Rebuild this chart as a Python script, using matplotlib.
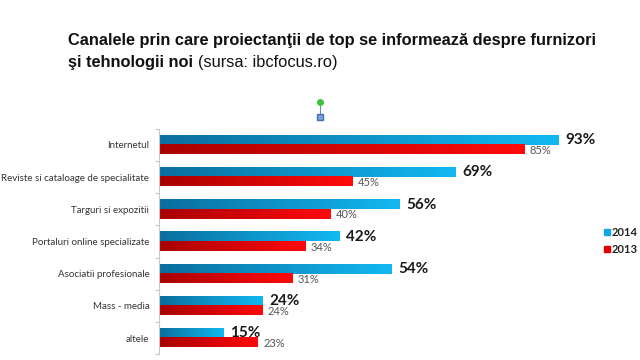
import numpy as np
import matplotlib
matplotlib.use("Agg")
import matplotlib.pyplot as plt
import matplotlib.colors as mcolors

# ---------------------------------------------------------------
# Data
# ---------------------------------------------------------------
categories = [
    "Internetul",
    "Reviste si cataloage de specialitate",
    "Targuri si expozitii",
    "Portaluri online specializate",
    "Asociatii profesionale",
    "Mass - media",
    "altele",
]
values_2014 = [93, 69, 56, 42, 54, 24, 15]
values_2013 = [85, 45, 40, 34, 31, 24, 23]
series_labels = ["2014", "2013"]

BLUE_CMAP = mcolors.LinearSegmentedColormap.from_list("b", ["#0b6e9e", "#12b8f2"])
RED_CMAP = mcolors.LinearSegmentedColormap.from_list("r", ["#a80000", "#ff0a0a"])
FONT = "Lato"

W, H = 640, 360
fig = plt.figure(figsize=(6.4, 3.6), dpi=100)

# axes placed in pixel terms: x 0..100 -> 159..589 px, rows 128.8..354.2 px
ax = fig.add_axes([159 / W, 1 - 354.2 / H, 430 / W, (354.2 - 128.8) / H])

bh = 0.29
grad = np.linspace(0, 1, 256).reshape(1, -1)


def gradient_bar(y0, width, cmap):
    ax.imshow(grad, cmap=cmap, aspect="auto", extent=(0, width, y0 + bh, y0),
              interpolation="bilinear", zorder=2)


for i, (v14, v13) in enumerate(zip(values_2014, values_2013)):
    gradient_bar(i - bh, v14, BLUE_CMAP)
    gradient_bar(i, v13, RED_CMAP)
    ax.text(v14 + 1.6, i - bh / 2, f"{v14}%", va="center", ha="left",
            fontsize=11, fontweight="bold", color="#1a1a1a", family=FONT)
    ax.text(v13 + 1.2, i + bh / 2 + 0.03, f"{v13}%", va="center", ha="left",
            fontsize=8, color="#555555", family=FONT)

ax.set_xlim(0, 100)
ax.set_ylim(len(categories) - 0.5, -0.5)

ax.set_yticks(range(len(categories)))
ax.set_yticklabels(categories, fontsize=7.0, color="#333333", family=FONT)
ax.set_yticks(np.arange(-0.5, len(categories)), minor=True)
ax.tick_params(axis="y", which="major", length=0, pad=7)
ax.tick_params(axis="y", which="minor", length=3, color="#c8c8c8", width=0.8)
ax.set_xticks([])
for side in ("top", "right", "bottom"):
    ax.spines[side].set_visible(False)
ax.spines["left"].set_color("#c8c8c8")
ax.spines["left"].set_linewidth(0.8)

# legend
leg_colors = ["#12a6e0", "#e00000"]
for k, (lab, col) in enumerate(zip(series_labels, leg_colors)):
    yy = 1 - (232 + k * 17.5) / H
    fig.patches.append(plt.Rectangle((604 / W, yy - 2.5 / H), 6 / W, 6 / H,
                                     transform=fig.transFigure, color=col))
    fig.text(612 / W, yy, lab, fontsize=8, fontweight="bold",
             va="center", ha="left", color="#222222", family=FONT)

# title (bold part + regular part on line 2)
fig.text(68 / W, 1 - 41 / H,
         "Canalele prin care proiectanţii de top se informează despre furnizori",
         fontsize=11.8, fontweight="bold", va="center", ha="left",
         family="Liberation Sans", color="#111111")
t2 = fig.text(68 / W, 1 - 62 / H, "şi tehnologii noi ", fontsize=11.8,
              fontweight="bold", va="center", ha="left",
              family="Liberation Sans", color="#111111")
fig.canvas.draw()
bb = t2.get_window_extent()
fig.text(bb.x1 / W, 1 - 62 / H, "(sursa: ibcfocus.ro)", fontsize=11.8,
         va="center", ha="left", family="Liberation Sans", color="#111111")

# selection handle artefact
fig.add_artist(plt.Line2D([320 / W, 320 / W], [1 - 102 / H, 1 - 117 / H],
                          transform=fig.transFigure, color="#6a8caf", lw=0.8))
fig.add_artist(plt.Line2D([320 / W], [1 - 102 / H], transform=fig.transFigure,
                          marker="o", markersize=4, color="#3cc43c", lw=0))
fig.add_artist(plt.Line2D([320 / W], [1 - 117 / H], transform=fig.transFigure,
                          marker="s", markersize=4, markerfacecolor="#7aa0e0",
                          markeredgecolor="#4a70b0", lw=0))

fig.savefig("out.png", dpi=100)
